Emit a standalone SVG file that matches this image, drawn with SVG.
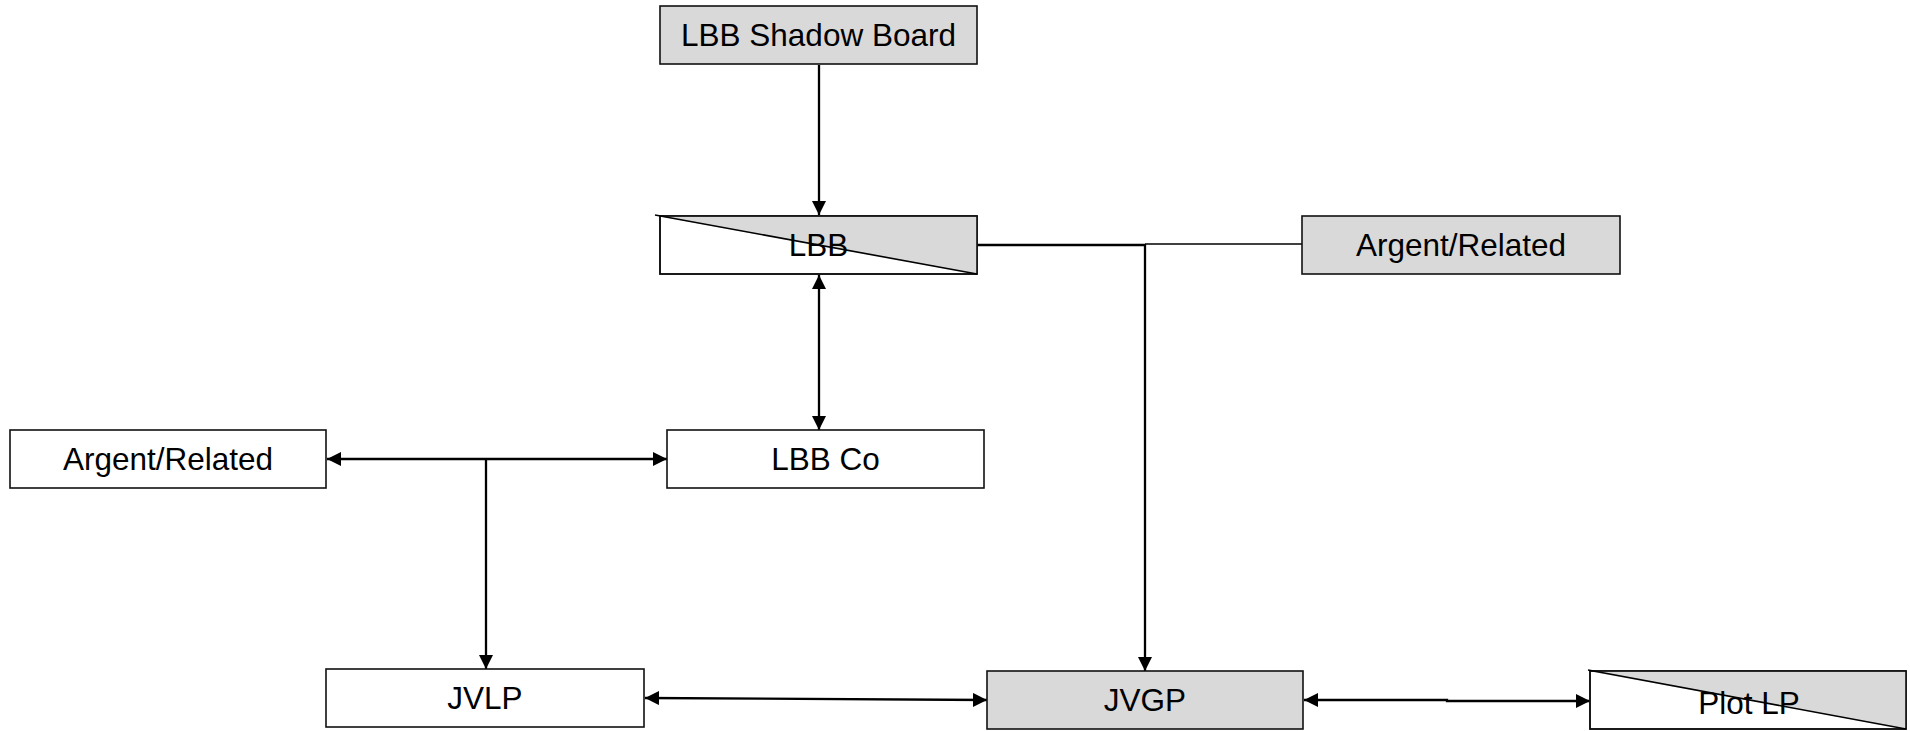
<svg xmlns="http://www.w3.org/2000/svg" width="1910" height="731" viewBox="0 0 1910 731">
<defs>
<style>
.box{stroke:#111;stroke-width:1.6}
.w{fill:#fff}
.g{fill:#d9d9d9}
.t{font-family:"Liberation Sans",Arial,sans-serif;font-size:31.5px;fill:#000;text-anchor:middle}
.c{fill:none;stroke:#000;stroke-width:2.3}
.ct{fill:none;stroke:#000;stroke-width:1.6}
.diag{fill:none;stroke:#000;stroke-width:1.6}
</style>
<marker id="ah" viewBox="0 0 14 14" refX="14" refY="7" markerWidth="14" markerHeight="14" markerUnits="userSpaceOnUse" orient="auto-start-reverse">
<path d="M0,0 L14,7 L0,14 Z" fill="#000"/>
</marker>
</defs>
<rect width="1910" height="731" fill="#fff"/>
<g id="connectors">
<path class="c" d="M819,65 V215" marker-end="url(#ah)"/>
<path class="c" d="M819,275 V430" marker-start="url(#ah)" marker-end="url(#ah)"/>
<path class="c" d="M977,245 H1145"/>
<path class="ct" d="M1145,244 H1302"/>
<path class="c" d="M1145,244 V671" marker-end="url(#ah)"/>
<path class="c" d="M327,459 H667" marker-start="url(#ah)" marker-end="url(#ah)"/>
<path class="c" d="M486,459 V669" marker-end="url(#ah)"/>
<path class="c" d="M645,698 L987,700" marker-start="url(#ah)" marker-end="url(#ah)"/>
<path class="c" d="M1304,700 H1447 V701 H1590" marker-start="url(#ah)" marker-end="url(#ah)"/>
</g>
<g id="shadow-board">
<rect class="box g" x="660" y="6" width="317" height="58"/>
<text class="t" x="818.5" y="46">LBB Shadow Board</text>
</g>
<g id="lbb">
<rect class="box w" x="660" y="216" width="317" height="58"/>
<path class="g" d="M660,216.6 H977 V274 Z"/>
<rect class="box" fill="none" x="660" y="216" width="317" height="58"/>
<text class="t" x="818.5" y="256">LBB</text>
<path class="diag" d="M655,215 L977,274"/>
</g>
<g id="argent-right">
<rect class="box g" x="1302" y="216" width="318" height="58"/>
<text class="t" x="1461" y="256">Argent/Related</text>
</g>
<g id="argent-left">
<rect class="box w" x="10" y="430" width="316" height="58"/>
<text class="t" x="168" y="470">Argent/Related</text>
</g>
<g id="lbb-co">
<rect class="box w" x="667" y="430" width="317" height="58"/>
<text class="t" x="825.5" y="470">LBB Co</text>
</g>
<g id="jvlp">
<rect class="box w" x="326" y="669" width="318" height="58"/>
<text class="t" x="485" y="709">JVLP</text>
</g>
<g id="jvgp">
<rect class="box g" x="987" y="671" width="316" height="58"/>
<text class="t" x="1145" y="711">JVGP</text>
</g>
<g id="plot-lp">
<rect class="box w" x="1590" y="671" width="316" height="58"/>
<path class="g" d="M1590,671.6 H1906 V729 Z"/>
<rect class="box" fill="none" x="1590" y="671" width="316" height="58"/>
<text class="t" x="1749" y="714">Plot LP</text>
<path class="diag" d="M1588,670 L1906,729"/>
</g>
</svg>
